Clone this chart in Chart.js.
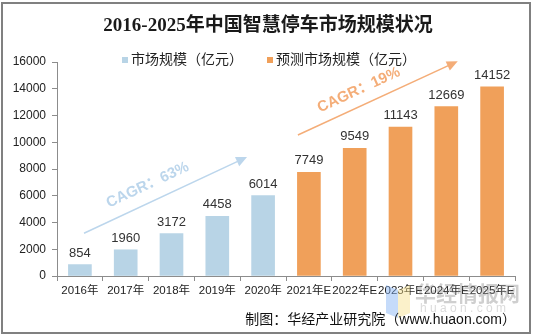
<!DOCTYPE html>
<html>
<head>
<meta charset="utf-8">
<script src="https://cdn.jsdelivr.net/npm/chart.js@4/dist/chart.umd.min.js"></script>
<style>
  body { margin: 0; background: #fff; }
  #wrap { width: 534px; height: 336px; }
</style>
</head>
<body>
<div id="wrap"><canvas id="c" width="534" height="336"></canvas></div>
<script>
// data
const years = ["2016年", "2017年", "2018年", "2019年", "2020年", "2021年E", "2022年E", "2023年E", "2024年E", "2025年E"];
const actual = [854, 1960, 3172, 4458, 6014, null, null, null, null, null];
const forecast = [null, null, null, null, null, 7749, 9549, 11143, 12669, 14152];
const yTicks = [0, 2000, 4000, 6000, 8000, 10000, 12000, 14000, 16000];
const seriesNames = ["市场规模（亿元）", "预测市场规模（亿元）"];

const BLUE = "#b8d4e6";
const ORANGE = "#f0a05a";
const FONT = "'Liberation Sans', Arial, 'Noto Sans CJK SC', sans-serif";

// CAGR arrows, in category index / value units
const notes = [
  { text: "CAGR：63%", from: [0.09, 3200], to: [3.65, 8900], at: [1.48, 6800], color: "#bcd6ec" },
  { text: "CAGR：19%", from: [4.76, 10540], to: [8.25, 16050], at: [6.09, 13900], color: "#f4ad78" }
];

const decor = {
  id: "decor",
  beforeDraw(chart) {
    const ctx = chart.ctx;
    ctx.save();
    ctx.fillStyle = "#fff";
    ctx.fillRect(0, 0, chart.width, chart.height);
    ctx.strokeStyle = "#808080";
    ctx.lineWidth = 2;
    ctx.strokeRect(2, 3, 528, 330);

    // title
    ctx.fillStyle = "#1a1a1a";
    ctx.font = "bold 19px 'Liberation Serif', 'Noto Sans CJK SC', serif";
    ctx.textAlign = "center";
    ctx.textBaseline = "middle";
    ctx.fillText("2016-2025年中国智慧停车市场规模状况", 268, 26);

    // legend
    ctx.font = "14px " + FONT;
    ctx.textAlign = "left";
    const colors = [BLUE, ORANGE];
    const lx = [122, 267];
    seriesNames.forEach((n, i) => {
      ctx.fillStyle = colors[i];
      ctx.fillRect(lx[i], 57, 6, 6);
      ctx.fillStyle = "#222";
      ctx.fillText(n, lx[i] + 9, 60);
    });
    ctx.restore();
  },
  afterDatasetsDraw(chart) {
    const ctx = chart.ctx;
    const xs = chart.scales.x, ys = chart.scales.y;
    ctx.save();

    // value labels
    ctx.font = "13px " + FONT;
    ctx.fillStyle = "#333";
    ctx.textAlign = "center";
    ctx.textBaseline = "bottom";
    chart.data.datasets.forEach((ds, di) => {
      chart.getDatasetMeta(di).data.forEach((bar, i) => {
        if (ds.data[i] == null) return;
        ctx.fillText(String(ds.data[i]), bar.x, bar.y - 5);
      });
    });

    // CAGR arrows
    notes.forEach(n => {
      const x1 = xs.getPixelForValue(n.from[0]), y1 = ys.getPixelForValue(n.from[1]);
      const x2 = xs.getPixelForValue(n.to[0]), y2 = ys.getPixelForValue(n.to[1]);
      const ang = Math.atan2(y2 - y1, x2 - x1);
      ctx.strokeStyle = n.color;
      ctx.fillStyle = n.color;
      ctx.lineWidth = 1.5;
      ctx.beginPath();
      ctx.moveTo(x1, y1);
      ctx.lineTo(x2 - 8 * Math.cos(ang), y2 - 8 * Math.sin(ang));
      ctx.stroke();
      ctx.beginPath();
      ctx.moveTo(x2, y2);
      ctx.lineTo(x2 - 11 * Math.cos(ang) + 5 * Math.sin(ang), y2 - 11 * Math.sin(ang) - 5 * Math.cos(ang));
      ctx.lineTo(x2 - 11 * Math.cos(ang) - 5 * Math.sin(ang), y2 - 11 * Math.sin(ang) + 5 * Math.cos(ang));
      ctx.closePath();
      ctx.fill();

      ctx.save();
      ctx.translate(xs.getPixelForValue(n.at[0]), ys.getPixelForValue(n.at[1]));
      ctx.rotate(ang);
      ctx.font = "bold 15px " + FONT;
      ctx.textAlign = "center";
      ctx.textBaseline = "middle";
      ctx.fillText(n.text, 0, 0);
      ctx.restore();
    });
    ctx.restore();
  },
  afterDraw(chart) {
    const ctx = chart.ctx;
    ctx.save();
    // watermark
    ctx.globalAlpha = 0.45;
    ctx.fillStyle = "#7fb0f5";
    ctx.beginPath();
    ctx.moveTo(386, 285); ctx.lineTo(398, 290); ctx.lineTo(398, 318); ctx.lineTo(386, 313);
    ctx.closePath(); ctx.fill();
    ctx.fillStyle = "#f7e08a";
    ctx.beginPath();
    ctx.moveTo(398, 290); ctx.lineTo(410, 285); ctx.lineTo(410, 313); ctx.lineTo(398, 318);
    ctx.closePath(); ctx.fill();
    ctx.globalAlpha = 0.4;
    ctx.fillStyle = "#888";
    ctx.font = "bold 21px 'Noto Sans CJK SC', sans-serif";
    ctx.textAlign = "left";
    ctx.textBaseline = "middle";
    ctx.fillText("华经情报网", 415, 293);
    ctx.globalAlpha = 0.3;
    ctx.font = "12px " + FONT;
    ctx.fillText("h u a o n . c o m", 420, 309);
    ctx.globalAlpha = 1;

    // source
    ctx.fillStyle = "#111";
    ctx.font = "14px " + FONT;
    ctx.textAlign = "right";
    ctx.fillText("制图：华经产业研究院（www.huaon.com）", 516, 320);
    ctx.restore();
  }
};

new Chart(document.getElementById("c"), {
  type: "bar",
  data: {
    labels: years,
    datasets: [
      { label: seriesNames[0], data: actual, backgroundColor: BLUE, barThickness: 23 },
      { label: seriesNames[1], data: forecast, backgroundColor: ORANGE, barThickness: 23 }
    ]
  },
  options: {
    responsive: false,
    animation: false,
    devicePixelRatio: 1,
    layout: { padding: { top: 62, right: 19, left: 0, bottom: 0 } },
    plugins: {
      legend: { display: false },
      title: { display: false },
      tooltip: { enabled: false }
    },
    scales: {
      x: {
        stacked: true,
        grid: { drawOnChartArea: false, drawTicks: true, tickLength: 5, color: "#8c8c8c", offset: true },
        border: { display: true, color: "#8c8c8c" },
        ticks: { color: "#222", font: { size: 11.5, family: FONT }, padding: 3, maxRotation: 0, autoSkip: false },
        afterFit: s => { s.height = 60; }
      },
      y: {
        stacked: true,
        min: 0,
        max: 16000,
        afterBuildTicks: s => { s.ticks = yTicks.map(v => ({ value: v })); },
        grid: { drawOnChartArea: false, drawTicks: true, tickLength: 5, color: "#8c8c8c" },
        border: { display: true, color: "#8c8c8c" },
        ticks: { color: "#222", font: { size: 12, family: FONT }, padding: 6, callback: v => String(v) },
        afterFit: s => { s.width = 57; }
      }
    }
  },
  plugins: [decor]
});
</script>
</body>
</html>
